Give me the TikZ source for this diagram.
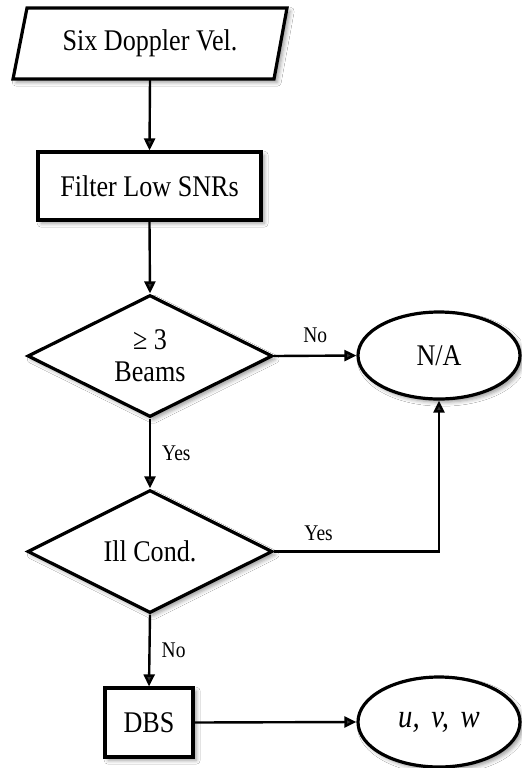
\documentclass[tikz,border=0pt]{standalone}
\usepackage{fontspec}
\setmainfont{Liberation Serif}[FakeStretch=0.87]
\usetikzlibrary{shapes.geometric,arrows.meta,shadows.blur}
\begin{document}
\begin{tikzpicture}[x=0.5pt,y=-0.5pt,
  outline/.style={draw=black, line width=1.6pt, fill=white,
    blur shadow={shadow xshift=1.6pt, shadow yshift=-1.6pt, shadow blur radius=2pt, shadow opacity=40}},
  shp/.style={outline, inner sep=0pt, font=\fontsize{15}{16}\selectfont, align=center},
  txt/.style={inner sep=0pt, font=\fontsize{15}{16}\selectfont, align=center},
  procbox/.style={shp, rectangle},
  decide/.style={shp, diamond, aspect=2},
  term/.style={shp, ellipse, minimum width=81pt},
  conn/.style={line width=1.2pt, -{Triangle[length=6pt,width=5.5pt]}},
  lbl/.style={inner sep=0pt, font=\fontsize{11.2}{12}\selectfont}
]
\useasboundingbox (0,0) rectangle (521,768);
\fill[white] (0,0) rectangle (521,768);

\draw[outline] (13,79) -- (274,79) -- (287,8) -- (27,8) -- cycle;
\node[txt, minimum width=130pt, minimum height=35.5pt] (src) at (150,43.5) {Six Doppler Vel.};
\node[procbox, minimum width=111.5pt, minimum height=34pt] (filt) at (149.5,186) {Filter Low SNRs};
\node[decide, minimum width=122.5pt, minimum height=61pt] (d1) at (150,356) {≥ 3\\Beams};
\node[term, minimum height=43.5pt] (na) at (439,355.5) {N/A};
\node[decide, minimum width=122.5pt, minimum height=61.5pt] (d2) at (150,551.5) {Ill Cond.};
\node[procbox, minimum width=44pt, minimum height=34.5pt] (dbs) at (149,722.5) {DBS};
\node[term, minimum height=45pt, font=\fontsize{16.5}{18}\selectfont\itshape] (out) at (439,722) {u,\hspace{0.35em}v,\hspace{0.35em}w};

\draw[conn] (src.south) -- (filt.north);
\draw[conn] (filt.south) -- (d1.north);
\draw[conn] (d1.east) -- node[lbl, above=6pt] {No} (na.west);
\draw[conn] (d1.south) -- node[lbl, right=5.5pt] {Yes} (d2.north);
\draw[conn] (d2.east) -| node[lbl, pos=0.135, above=5pt] {Yes} (na.south);
\draw[conn] (d2.south) -- node[lbl, right=5.5pt] {No} (dbs.north);
\draw[conn] (dbs.east) -- (out.west);
\end{tikzpicture}
\end{document}
